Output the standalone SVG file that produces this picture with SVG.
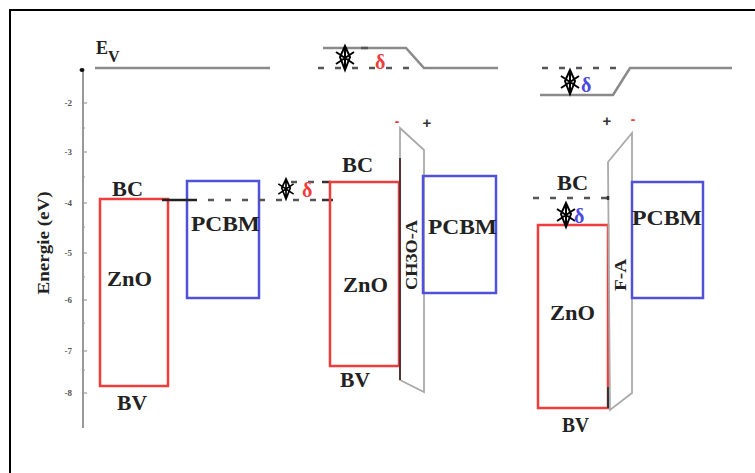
<svg xmlns="http://www.w3.org/2000/svg" width="755" height="473" viewBox="0 0 755 473">
<defs>
<style>
.lbl{font-family:"Liberation Serif","Times New Roman",serif;font-weight:bold;fill:#222}
.tick{font-family:"Liberation Serif",serif;font-weight:bold;font-size:9px;fill:#555;text-anchor:end}
.lvl{stroke:#8a8a8a;stroke-width:2.5;fill:none}
.dash{stroke:#555;stroke-width:2.5;fill:none;stroke-dasharray:6 11}
.red{stroke:#f03c3c;stroke-width:2.5;fill:none}
.blue{stroke:#5050d8;stroke-width:2.5;fill:none}
.layer{stroke:#aaa;stroke-width:1.8;fill:none}
.delta{font-family:"Liberation Serif",serif;font-weight:bold;font-size:20px}
</style>
<g id="sym">
<path d="M0,-12 L-5,-1 L0,12 L5,-1 Z M0,-12 V12 M-9,-6 L9,6 M9,-6 L-9,6" stroke="#000" stroke-width="2" fill="none" stroke-linejoin="miter"/>
</g>
</defs>
<rect width="755" height="473" fill="#fff"/>
<rect x="10" y="10" width="760" height="480" fill="none" stroke="#000" stroke-width="2"/>

<g id="axis">
<line x1="83" y1="70" x2="83" y2="428" stroke="#999" stroke-width="2"/>
<ellipse cx="82" cy="70" rx="2.5" ry="2" fill="#111"/>
<g stroke="#999" stroke-width="1.2">
<line x1="83" y1="103" x2="87" y2="103"/><line x1="83" y1="152" x2="87" y2="152"/>
<line x1="83" y1="203" x2="87" y2="203"/><line x1="83" y1="253" x2="87" y2="253"/>
<line x1="83" y1="300" x2="87" y2="300"/><line x1="83" y1="351" x2="87" y2="351"/>
<line x1="83" y1="393" x2="87" y2="393"/>
<line x1="83" y1="128" x2="85" y2="128"/><line x1="83" y1="177" x2="85" y2="177"/>
<line x1="83" y1="227" x2="85" y2="227"/><line x1="83" y1="277" x2="85" y2="277"/>
<line x1="83" y1="323" x2="85" y2="323"/><line x1="83" y1="370" x2="85" y2="370"/>
</g>
<text class="tick" x="72" y="106">-2</text>
<text class="tick" x="72" y="155">-3</text>
<text class="tick" x="72" y="206">-4</text>
<text class="tick" x="72" y="256">-5</text>
<text class="tick" x="72" y="303">-6</text>
<text class="tick" x="72" y="354">-7</text>
<text class="tick" x="72" y="396">-8</text>
<text class="lbl" font-size="16" transform="translate(49,243) rotate(-90)" text-anchor="middle" textLength="103" lengthAdjust="spacingAndGlyphs">Energie (eV)</text>
</g>

<g id="ev-left">
<text class="lbl" font-size="18" x="96" y="54">E</text>
<text class="lbl" font-size="16" x="108" y="62" fill="#1a1a3a">V</text>
<line class="lvl" x1="95" y1="68" x2="270" y2="68"/>
</g>

<g id="znoA">
<rect class="red" x="100" y="199" width="68" height="187"/>
<text class="lbl" font-size="21" x="107" y="286" textLength="45" lengthAdjust="spacingAndGlyphs">ZnO</text>
<text class="lbl" font-size="21" x="112" y="196" textLength="31" lengthAdjust="spacingAndGlyphs">BC</text>
<text class="lbl" font-size="21" x="117" y="410" textLength="30" lengthAdjust="spacingAndGlyphs">BV</text>
</g>
<g id="pcbmA">
<rect class="blue" x="187" y="181" width="72" height="117"/>
<text class="lbl" font-size="21" x="191" y="231" textLength="69" lengthAdjust="spacingAndGlyphs">PCBM</text>
</g>

<g id="connectors">
<line x1="162" y1="200" x2="197" y2="200" stroke="#222" stroke-width="2.5"/>
<line class="dash" x1="208" y1="200" x2="322" y2="200"/>
<line class="dash" x1="291" y1="182" x2="322" y2="182" stroke="#999"/>
<line x1="322" y1="182" x2="331" y2="182" stroke="#333" stroke-width="2.5"/>
<line x1="322" y1="200" x2="333" y2="200" stroke="#333" stroke-width="2.5"/>
<polyline class="lvl" points="323,48 406,48 424,68 498,68"/>
<line class="dash" x1="318" y1="68" x2="420" y2="68" stroke-dasharray="7 15" stroke="#666"/>
<line x1="361" y1="48" x2="368" y2="48" stroke="#555" stroke-width="2.5"/>
<line class="dash" x1="542" y1="68" x2="626" y2="68" stroke-dasharray="10 9" stroke="#777"/>
<polyline class="lvl" points="540,95 613,95 630,68 732,68"/>
<line class="dash" x1="533" y1="198" x2="612" y2="198" stroke-dasharray="11 14" stroke="#666"/>
</g>

<g id="znoB">
<rect class="red" x="330" y="182" width="69" height="184"/>
<text class="lbl" font-size="21" x="343" y="292" textLength="45" lengthAdjust="spacingAndGlyphs">ZnO</text>
<text class="lbl" font-size="21" x="342" y="172" textLength="31" lengthAdjust="spacingAndGlyphs">BC</text>
<text class="lbl" font-size="21" x="340" y="387" textLength="30" lengthAdjust="spacingAndGlyphs">BV</text>
</g>
<g id="ch3oa">
<polygon class="layer" points="400,128 424,150 424,392 400,380"/>
<line x1="400" y1="158" x2="400" y2="380" stroke="#553333" stroke-width="2"/>
<text class="lbl" font-size="16" transform="translate(417,255) rotate(-90)" text-anchor="middle" textLength="70" lengthAdjust="spacingAndGlyphs">CH3O-A</text>
<text x="397" y="126" font-family="Liberation Sans,sans-serif" font-weight="bold" font-size="14" fill="#f03c3c" text-anchor="middle">-</text>
<text x="427" y="128" font-family="Liberation Sans,sans-serif" font-weight="bold" font-size="15" fill="#333" text-anchor="middle">+</text>
</g>
<g id="pcbmB">
<rect class="blue" x="423" y="176" width="73" height="117"/>
<text class="lbl" font-size="21" x="428" y="234" textLength="69" lengthAdjust="spacingAndGlyphs">PCBM</text>
</g>

<g id="znoC">
<rect class="red" x="538" y="225" width="70" height="183"/>
<line x1="608" y1="387" x2="608" y2="408" stroke="#333" stroke-width="2"/>
<text class="lbl" font-size="21" x="550" y="320" textLength="45" lengthAdjust="spacingAndGlyphs">ZnO</text>
<text class="lbl" font-size="21" x="557" y="190" textLength="31" lengthAdjust="spacingAndGlyphs">BC</text>
<text class="lbl" font-size="21" x="562" y="432" textLength="27" lengthAdjust="spacingAndGlyphs">BV</text>
</g>
<g id="fa">
<polygon class="layer" points="608,162 632,133 632,393 610,410"/>
<line x1="608" y1="196" x2="608" y2="200" stroke="#333" stroke-width="2.5"/>
<text class="lbl" font-size="16" transform="translate(626,275) rotate(-90)" text-anchor="middle" textLength="32" lengthAdjust="spacingAndGlyphs">F-A</text>
<text x="607" y="126" font-family="Liberation Sans,sans-serif" font-weight="bold" font-size="15" fill="#333" text-anchor="middle">+</text>
<text x="633" y="124" font-family="Liberation Sans,sans-serif" font-weight="bold" font-size="14" fill="#f03c3c" text-anchor="middle">-</text>
</g>
<g id="pcbmC">
<rect class="blue" x="632" y="182" width="71" height="116"/>
<text class="lbl" font-size="21" x="632" y="225" textLength="70" lengthAdjust="spacingAndGlyphs">PCBM</text>
</g>

<g id="deltas">
<use href="#sym" x="345" y="58"/>
<use href="#sym" transform="translate(286,189) scale(0.85)"/>
<use href="#sym" x="570" y="82"/>
<use href="#sym" x="566" y="215"/>
<text class="delta" x="375" y="69" fill="#f03c3c">δ</text>
<text class="delta" x="302" y="197" fill="#f03c3c">δ</text>
<text class="delta" x="581" y="92" fill="#4a4ae0">δ</text>
<text class="delta" x="574" y="223" fill="#4a4ae0">δ</text>
</g>
</svg>
